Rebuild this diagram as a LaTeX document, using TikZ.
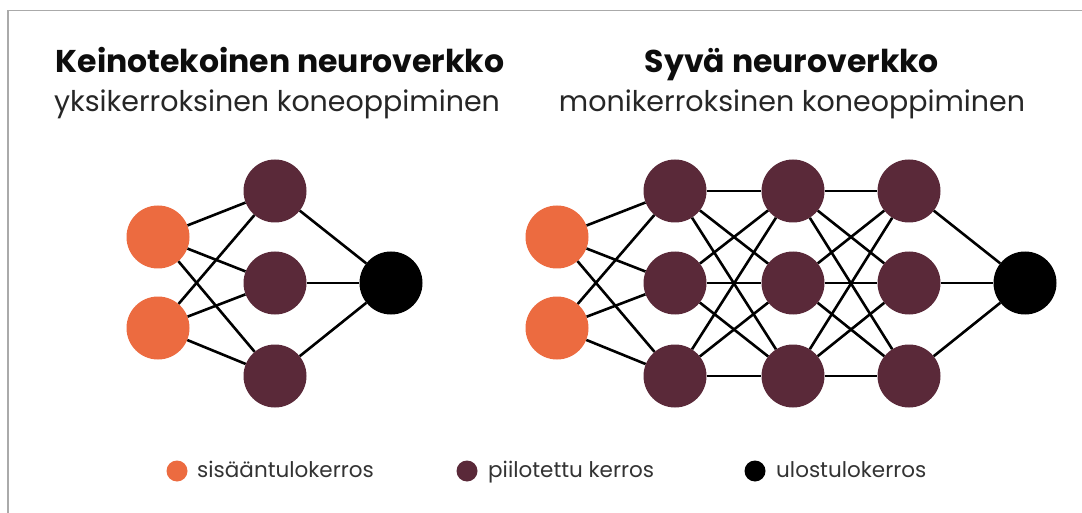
\documentclass[tikz,border=0pt]{standalone}
\usepackage{fontspec}
\setmainfont{Poppins}
\definecolor{inorange}{HTML}{EC6B40}
\definecolor{hidpurple}{HTML}{5A2939}
\definecolor{framegray}{HTML}{AAAAAA}
\begin{document}
\begin{tikzpicture}[x=1pt,y=-1pt,
  neuron/.style={circle, minimum size=63pt, inner sep=0pt, draw=none},
  inp/.style={neuron, fill=inorange},
  hid/.style={neuron, fill=hidpurple},
  outp/.style={neuron, fill=black},
  link/.style={line width=2.6pt, black},
  titletext/.style={font=\fontsize{31.5}{36}\selectfont\bfseries, anchor=base, inner sep=0pt, text=black!95},
  subtext/.style={font=\fontsize{28.5}{32}\selectfont, anchor=base, inner sep=0pt, text=black!85},
  legtext/.style={font=\fontsize{21.5}{25}\selectfont, anchor=base west, inner sep=0pt, text=black!80},
  legdot/.style={circle, minimum size=21pt, inner sep=0pt}]
\useasboundingbox (0,0) rectangle (1082,513);
\fill[white] (0,0) rectangle (1082,513);
\draw[framegray, line width=1.5pt] (8,513) -- (8,10.5) -- (1082,10.5);

% titles
\node[titletext] (t1) at (280,73) {Keinotekoinen neuroverkko};
\node[subtext] (s1) at (277,112) {yksikerroksinen koneoppiminen};
\node[titletext] (t2) at (792,73) {Syvä neuroverkko};
\node[subtext] (s2) at (792,112) {monikerroksinen koneoppiminen};

% left network
\node[inp] (Li1) at (158,237) {};
\node[inp] (Li2) at (158,328) {};
\node[hid] (Lh1) at (275,191) {};
\node[hid] (Lh2) at (275,283) {};
\node[hid] (Lh3) at (275,376) {};
\node[outp] (Lo) at (391,283) {};
\foreach \i in {1,2}{\foreach \h in {1,2,3}{\draw[link] (Li\i) -- (Lh\h);}}
\foreach \h in {1,2,3}{\draw[link] (Lh\h) -- (Lo);}

% right network
\node[inp] (Ri1) at (557,237) {};
\node[inp] (Ri2) at (557,328) {};
\foreach \c/\x in {a/675,b/793,c/909}{
  \node[hid] (R\c1) at (\x,191) {};
  \node[hid] (R\c2) at (\x,283) {};
  \node[hid] (R\c3) at (\x,376) {};
}
\node[outp] (Ro) at (1025,283) {};
\foreach \i in {1,2}{\foreach \h in {1,2,3}{\draw[link] (Ri\i) -- (Ra\h);}}
\foreach \p in {1,2,3}{\foreach \q in {1,2,3}{
  \draw[link] (Ra\p) -- (Rb\q);
  \draw[link] (Rb\p) -- (Rc\q);}}
\foreach \h in {1,2,3}{\draw[link] (Rc\h) -- (Ro);}

% legend
\node[legdot, fill=inorange] (d1) at (177,471) {};
\node[legtext] (l1) at (197,477) {sisääntulokerros};
\node[legdot, fill=hidpurple] (d2) at (467,471) {};
\node[legtext] (l2) at (488,477) {piilotettu kerros};
\node[legdot, fill=black] (d3) at (755,471) {};
\node[legtext] (l3) at (776,477) {ulostulokerros};
\end{tikzpicture}
\end{document}
